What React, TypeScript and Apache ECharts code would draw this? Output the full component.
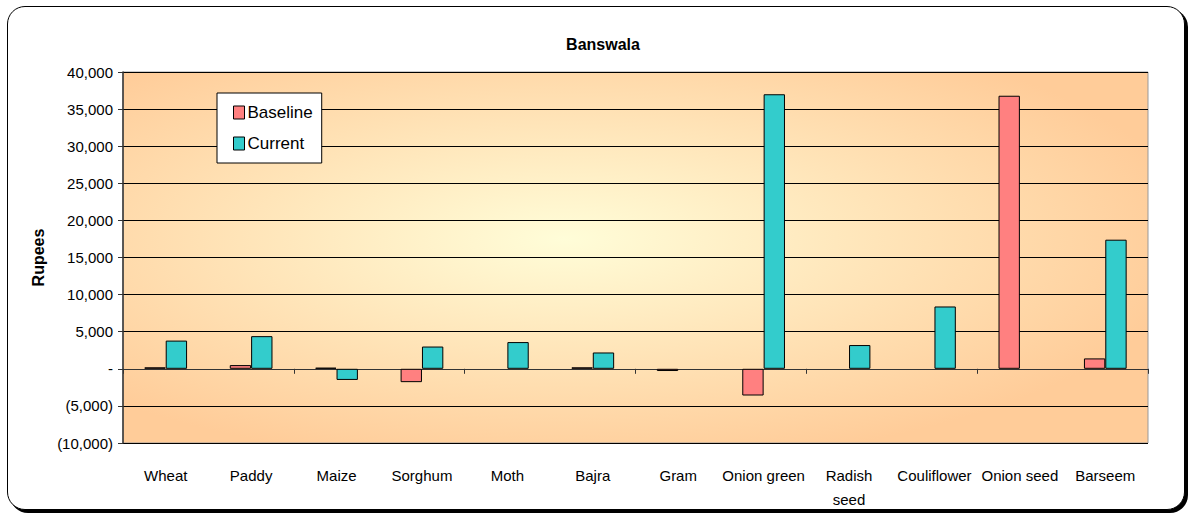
import React, { useEffect, useRef } from "react";
import * as echarts from "echarts";

const categories = [
  "Wheat",
  "Paddy",
  "Maize",
  "Sorghum",
  "Moth",
  "Bajra",
  "Gram",
  "Onion green",
  "Radish\nseed",
  "Couliflower",
  "Onion seed",
  "Barseem",
];
const baseline: (number | null)[] = [200, 500, 150, -1800, null, 200, -300, -3600, null, null, 36800, 1400];
const current: (number | null)[] = [3800, 4400, -1500, 3000, 3600, 2200, null, 37000, 3200, 8400, null, 17400];
const yTicks = { min: -10000, max: 40000, interval: 5000 };

const FONT = "'Liberation Sans', Arial, sans-serif";

function fmtY(v: number): string {
  if (v === 0) return "-";
  const s = Math.abs(v).toLocaleString("en-US");
  return v < 0 ? `(${s})` : s;
}

export default function App() {
  const ref = useRef<HTMLDivElement>(null);
  useEffect(() => {
    if (!ref.current) return;
    const chart = echarts.init(ref.current, undefined, { renderer: "svg" });
    chart.setOption({
      animation: false,
      textStyle: { fontFamily: FONT },
      title: {
        text: "Banswala",
        left: 598,
        textAlign: "center",
        top: 31,
        textStyle: { fontSize: 16, fontWeight: "bold", color: "#000", fontFamily: FONT },
      },
      legend: {
        orient: "vertical",
        left: 217,
        top: 93,
        backgroundColor: "#fff",
        borderColor: "#000",
        borderWidth: 1,
        padding: [11, 9, 11, 16],
        itemWidth: 11,
        itemHeight: 13,
        itemGap: 14,
        icon: "rect",
        itemStyle: { borderColor: "#000", borderWidth: 1 },
        textStyle: { fontSize: 17, color: "#000", fontFamily: FONT, padding: [0, 0, 0, -2] },
        data: ["Baseline", "Current"],
      },
      grid: {
        left: 123,
        right: 42,
        top: 72,
        bottom: 72,
        show: true,
        borderColor: "#999",
        borderWidth: 1,
        backgroundColor: {
          type: "radial",
          x: 0.43,
          y: 0.45,
          r: 0.62,
          colorStops: [
            { offset: 0, color: "#FFFDD8" },
            { offset: 1, color: "#FFCC99" },
          ],
        },
      },
      xAxis: [
        {
          type: "category",
          data: categories,
          axisLine: { show: false, onZero: false },
          axisTick: { show: false },
          splitLine: { show: false },
          axisLabel: {
            interval: 0,
            margin: 20,
            fontSize: 15,
            lineHeight: 24,
            color: "#000",
            fontFamily: FONT,
          },
        },
        {
          type: "category",
          data: categories,
          position: "bottom",
          axisLine: { show: true, onZero: true, lineStyle: { color: "#333", width: 1 } },
          axisTick: { show: true, length: 5, lineStyle: { color: "#333" } },
          axisLabel: { show: false },
          splitLine: { show: false },
        },
      ],
      yAxis: {
        type: "value",
        min: yTicks.min,
        max: yTicks.max,
        interval: yTicks.interval,
        name: "Rupees",
        nameLocation: "middle",
        nameGap: 76,
        nameTextStyle: { fontSize: 16, fontWeight: "bold", color: "#000", fontFamily: FONT },
        axisLine: { show: true, lineStyle: { color: "#333", width: 1.5 } },
        axisTick: { show: true, length: 5, lineStyle: { color: "#333" } },
        axisLabel: { formatter: fmtY, fontSize: 15, color: "#000", margin: 10, fontFamily: FONT },
        splitLine: { show: true, lineStyle: { color: "#000", width: 1 } },
      },
      series: [
        {
          name: "Baseline",
          type: "bar",
          data: baseline,
          xAxisIndex: 0,
          barGap: "0%",
          barCategoryGap: "50%",
          itemStyle: { color: "#FF8080", borderColor: "#000", borderWidth: 1 },
        },
        {
          name: "Current",
          type: "bar",
          data: current,
          xAxisIndex: 0,
          barGap: "0%",
          barCategoryGap: "50%",
          itemStyle: { color: "#33CCCC", borderColor: "#000", borderWidth: 1 },
        },
      ],
    });
    return () => chart.dispose();
  }, []);

  return (
    <div style={{ position: "absolute", left: 0, top: 0, width: 1190, height: 515, background: "#fff" }}>
      <div
        style={{
          position: "absolute",
          left: 7,
          top: 6,
          width: 1176,
          height: 502,
          border: "1.5px solid #000",
          borderRadius: 18,
          boxShadow: "3px 3px 0 #000",
          background: "#fff",
        }}
      />
      <div ref={ref} style={{ position: "absolute", left: 0, top: 0, width: 1190, height: 515 }} />
    </div>
  );
}
